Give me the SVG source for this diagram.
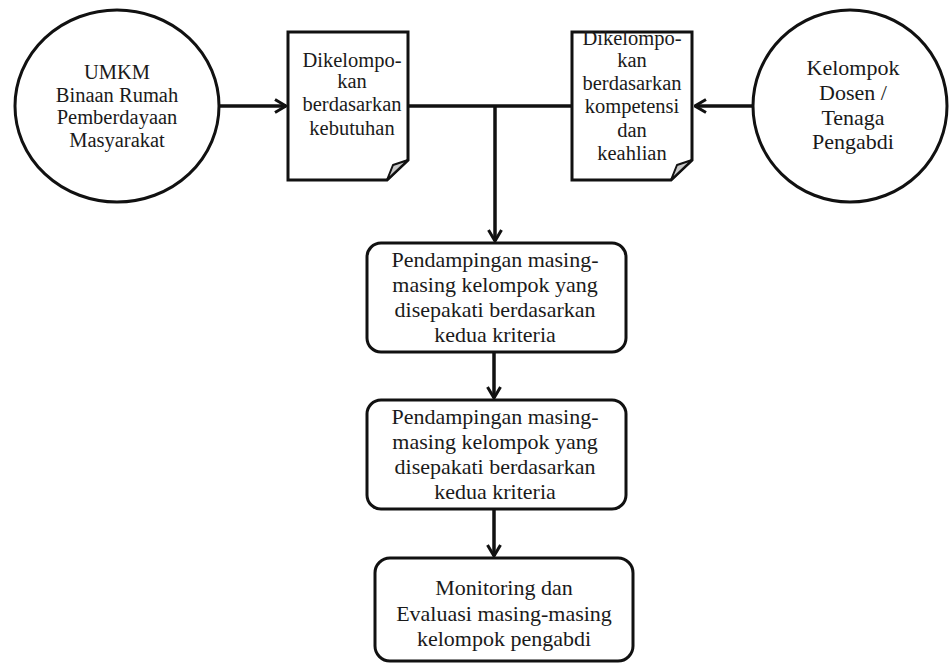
<svg xmlns="http://www.w3.org/2000/svg" width="949" height="664" viewBox="0 0 949 664">
<defs>
<style>
.shape{fill:#fff;stroke:#111;stroke-width:3}
.fold{fill:#c8c8c8;stroke:#111;stroke-width:2;stroke-linejoin:round}
.conn{fill:none;stroke:#111;stroke-width:3.5}
.lbl{font-family:'Liberation Serif','Times New Roman',serif;fill:#1a1a1a;text-anchor:middle}
.t20{font-size:20.5px}
.t22{font-size:22px}
</style>
<marker id="arr" viewBox="0 0 14 16" refX="12.5" refY="8" markerWidth="14" markerHeight="16" markerUnits="userSpaceOnUse" orient="auto">
<path d="M1.5,1.5 L12.5,8 L1.5,14.5" fill="none" stroke="#111" stroke-width="3" stroke-linejoin="miter"/>
</marker>
</defs>
<rect width="949" height="664" fill="#fff"/>
<g id="connectors">
<line class="conn" x1="220" y1="106" x2="286" y2="106" marker-end="url(#arr)"/>
<line class="conn" x1="409" y1="106" x2="572" y2="106"/>
<line class="conn" x1="495" y1="106" x2="495" y2="241" marker-end="url(#arr)"/>
<line class="conn" x1="752" y1="106" x2="695" y2="106" marker-end="url(#arr)"/>
<line class="conn" x1="494" y1="352" x2="494" y2="398" marker-end="url(#arr)"/>
<line class="conn" x1="494" y1="509" x2="494" y2="556" marker-end="url(#arr)"/>
</g>
<g id="umkm">
<ellipse class="shape" cx="117" cy="106" rx="102" ry="96"/>
<text class="lbl t20"><tspan x="117" y="79">UMKM</tspan><tspan x="117" y="102">Binaan Rumah</tspan><tspan x="117" y="124">Pemberdayaan</tspan><tspan x="117" y="147">Masyarakat</tspan></text>
</g>
<g id="doc-kebutuhan">
<path class="shape" d="M288,32 H408 V160 L387,180 H288 Z"/>
<path class="fold" d="M408,160 L393,165 L387,180 Z"/>
<text class="lbl t20"><tspan x="352" y="67">Dikelompo-</tspan><tspan x="352" y="88">kan</tspan><tspan x="352" y="111">berdasarkan</tspan><tspan x="352" y="135">kebutuhan</tspan></text>
</g>
<g id="doc-kompetensi">
<path class="shape" d="M572,32 H692 V160 L671,180 H572 Z"/>
<path class="fold" d="M692,160 L677,165 L671,180 Z"/>
<text class="lbl t20"><tspan x="632" y="45">Dikelompo-</tspan><tspan x="632" y="67">kan</tspan><tspan x="632" y="90">berdasarkan</tspan><tspan x="632" y="113">kompetensi</tspan><tspan x="632" y="137">dan</tspan><tspan x="632" y="160">keahlian</tspan></text>
</g>
<g id="dosen">
<ellipse class="shape" cx="850" cy="106" rx="97" ry="96"/>
<text class="lbl t22"><tspan x="853" y="75">Kelompok</tspan><tspan x="853" y="100">Dosen /</tspan><tspan x="853" y="125">Tenaga</tspan><tspan x="853" y="149">Pengabdi</tspan></text>
</g>
<g id="pendampingan-1">
<rect class="shape" x="367" y="243" width="259" height="109" rx="14"/>
<text class="lbl t22"><tspan x="495" y="267">Pendampingan masing-</tspan><tspan x="495" y="292">masing kelompok yang</tspan><tspan x="495" y="317">disepakati berdasarkan</tspan><tspan x="495" y="342">kedua kriteria</tspan></text>
</g>
<g id="pendampingan-2">
<rect class="shape" x="367" y="400" width="259" height="109" rx="14"/>
<text class="lbl t22"><tspan x="495" y="424">Pendampingan masing-</tspan><tspan x="495" y="449">masing kelompok yang</tspan><tspan x="495" y="474">disepakati berdasarkan</tspan><tspan x="495" y="499">kedua kriteria</tspan></text>
</g>
<g id="monitoring">
<rect class="shape" x="375" y="558" width="258" height="103" rx="15"/>
<text class="lbl t22"><tspan x="504" y="595">Monitoring dan</tspan><tspan x="504" y="621">Evaluasi masing-masing</tspan><tspan x="504" y="646">kelompok pengabdi</tspan></text>
</g>
</svg>
